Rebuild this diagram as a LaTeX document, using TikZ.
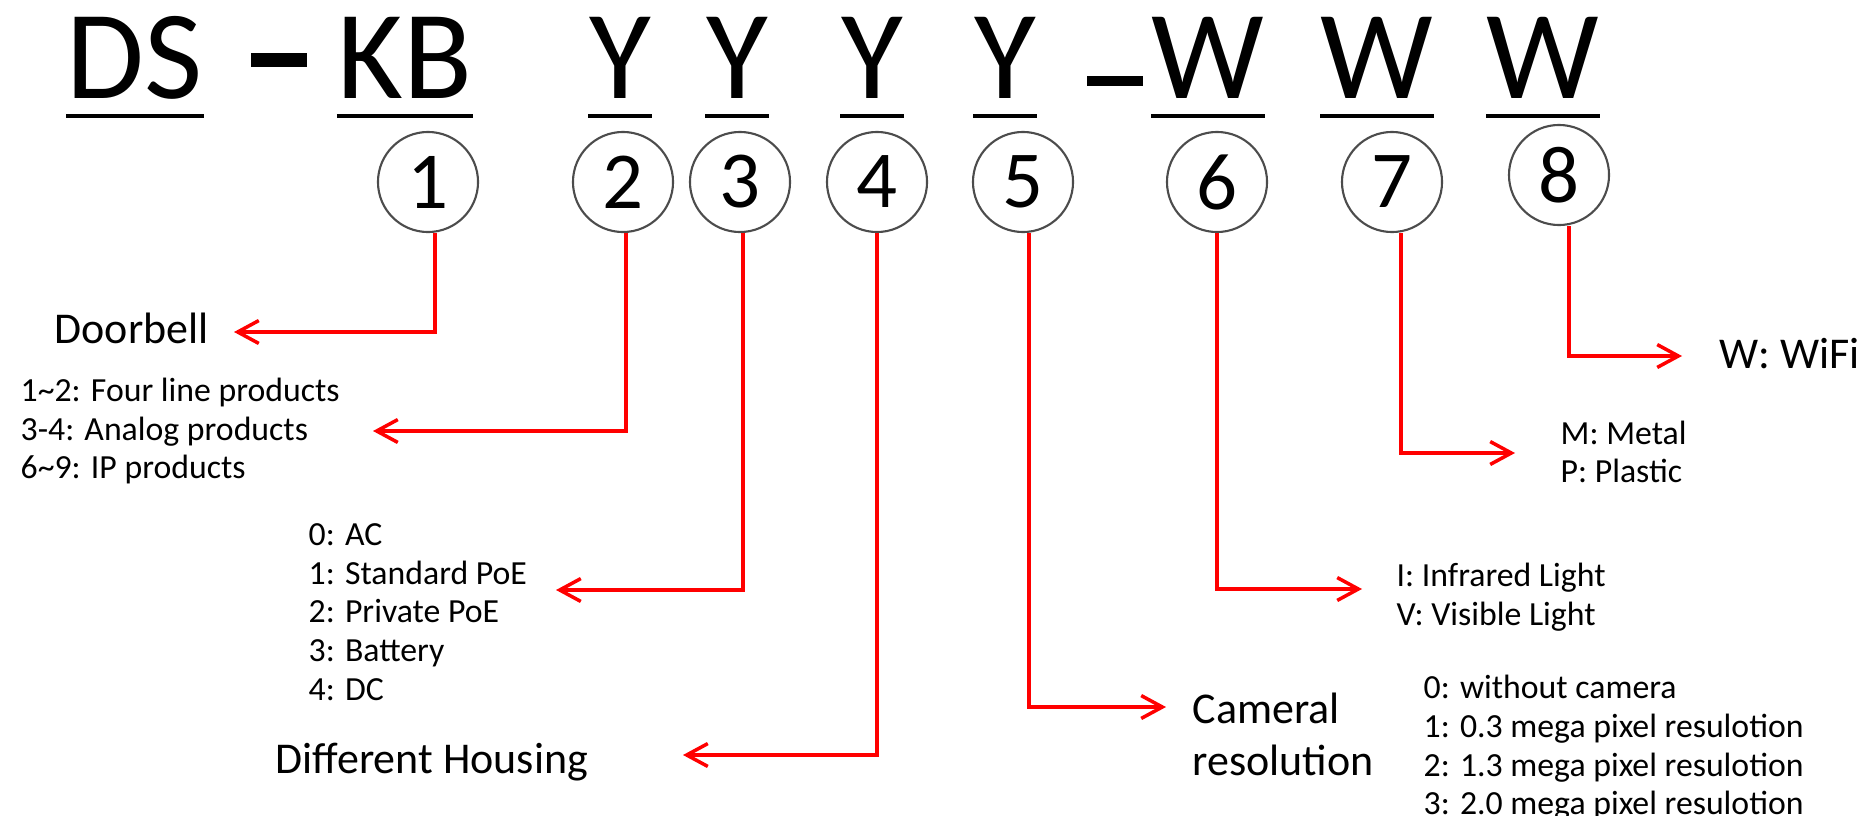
\documentclass[tikz,border=0pt]{standalone}
\usepackage{fontspec}
\setmainfont{Carlito}
\usetikzlibrary{arrows.meta}
\tikzset{
  codechar/.style = {inner sep=0pt, anchor=base,
    font=\fontsize{36pt}{36pt}\selectfont},
  dashbar/.style = {fill=black, inner sep=0pt, minimum width=0.56cm},
  num_n/.style = {circle, draw=black!70, line width=0.6pt, minimum size=1cm,
    inner sep=0pt, font=\fontsize{23pt}{23pt}\selectfont},
  desc/.style = {align=left, anchor=west, inner sep=0pt,
    font=\fontsize{9.6pt}{11pt}\selectfont},
  bigdesc/.style = {align=left, anchor=west, inner sep=0pt,
    font=\fontsize{12.5pt}{14.8pt}\selectfont},
  uline/.style = {line width=1.4pt},
  conn/.style = {->, red, line width=1pt}}

\begin{document}
\begin{tikzpicture}[x=0.01cm, y=-0.01cm,
  >={Straight Barb[length=6pt,width=6.5pt]}]
\path [use as bounding box, fill=white] (0,0) rectangle (1861,815);

\node [codechar] (ds) at (135,98) {DS};
\node [dashbar, minimum height=0.13cm] (d1) at (279,60) {};
\node [codechar] (kb) at (405,98) {KB};
\node [codechar] (y1) at (620,98) {Y};
\node [codechar] (y2) at (737,98) {Y};
\node [codechar] (y3) at (872,98) {Y};
\node [codechar] (y4) at (1005,98) {Y};
\node [dashbar, minimum height=0.09cm] (d2) at (1115,81) {};
\node [codechar] (w1) at (1208,98) {W};
\node [codechar] (w2) at (1377,98) {W};
\node [codechar] (w3) at (1543,98) {W};
\foreach \n in {ds,kb,y1,y2,y3,y4,w1,w2,w3}
  \draw [uline] ([yshift=-0.18cm]\n.base west) -- ([yshift=-0.18cm]\n.base east);

\node [num_n] (c1) at (428,182) {1};
\node [num_n] (c2) at (623,182) {2};
\node [num_n] (c3) at (740,182) {3};
\node [num_n] (c4) at (877,182) {4};
\node [num_n] (c5) at (1023,182) {5};
\node [num_n] (c6) at (1217,182) {6};
\node [num_n] (c7) at (1392,182) {7};
\node [num_n] (c8) at (1559,175) {8};

\node [bigdesc, anchor=base west] (doorbell) at (54,343) {Doorbell};
\node [desc] (products) at (20,431)
  {1\textasciitilde2: Four line products\\3-4: Analog products\\6\textasciitilde9: IP products};
\node [desc] (power) at (308,612)
  {0: AC\\1: Standard PoE\\2: Private PoE\\3: Battery\\4: DC};
\node [bigdesc, anchor=base west] (housing) at (275,773) {Different Housing};
\node [bigdesc] (camera) at (1192,734) {Cameral\\resolution};
\node [desc] (pixels) at (1423,748)
  {0: without camera\\1: 0.3 mega pixel resulotion\\2: 1.3 mega pixel resulotion\\3: 2.0 mega pixel resulotion};
\node [desc] (light) at (1396,597) {I: Infrared Light\\V: Visible Light};
\node [desc] (material) at (1560,452) {M: Metal\\P: Plastic};
\node [bigdesc, anchor=base west] (wifi) at (1719,368) {W: WiFi};

\coordinate (t1) at (234,332);
\coordinate (t2) at (373,431);
\coordinate (t3) at (556,590);
\coordinate (t4) at (683,755);
\coordinate (t5) at (1166,707);
\coordinate (t6) at (1362,589);
\coordinate (t7) at (1515,453);
\coordinate (t8) at (1682,356);

\draw [conn] ([xshift=0.07cm]c1.south) |- (t1);
\draw [conn] ([xshift=0.03cm]c2.south) |- (t2);
\draw [conn] ([xshift=0.03cm]c3.south) |- (t3);
\draw [conn] (c4.south) |- (t4);
\draw [conn] ([xshift=0.06cm]c5.south) |- (t5);
\draw [conn] (c6.south) |- (t6);
\draw [conn] ([xshift=0.09cm]c7.south) |- (t7);
\draw [conn] ([xshift=0.1cm]c8.south) |- (t8);
\end{tikzpicture}
\end{document}
